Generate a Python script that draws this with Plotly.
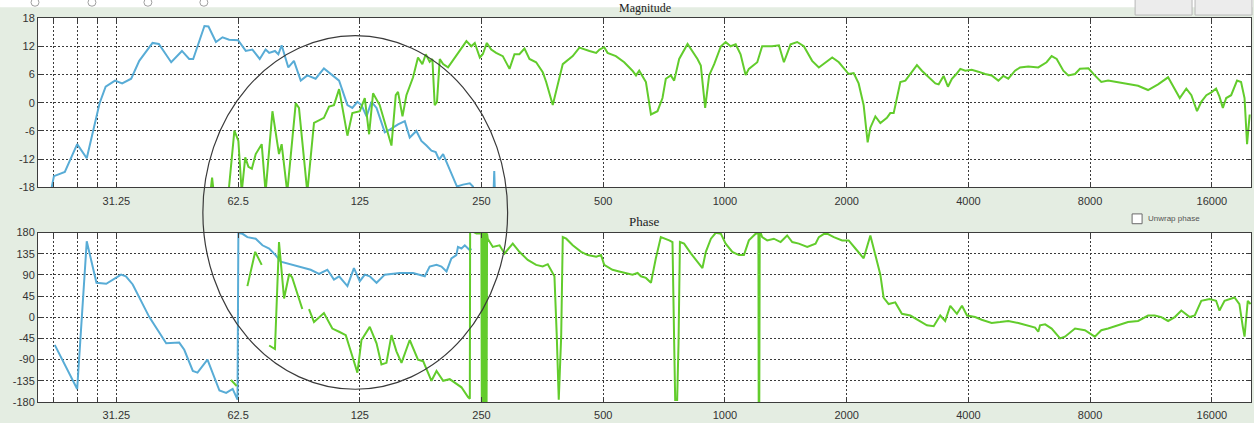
import math
import plotly.graph_objects as go

# ---------------------------------------------------------------------------
# Measured transfer function: two responses (blue / green), magnitude + phase
# ---------------------------------------------------------------------------

# Magnitude, blue response (Hz, dB); None separates disconnected pieces
mag_blue_freq = [21.5, 21.9, 23.3, 25.0, 26.4, 28.4, 29.4, 31.0, 32.3, 34.0,
                 35.6, 38.4, 39.8, 42.7, 45.4, 47.3, 48.4, 51.6, 52.8, 55.1,
                 57.2, 59.4, 62.5, 65.3, 67.8, 70.7, 73.1, 74.6, 77.1, 78.6,
                 80.1, 83.2, 85.9, 89.3, 92.7, 97.2, 101.9, 106.9, 111.1, 116.5,
                 119.8, 123.3, 126.2, 129.9, 133.6, 137.5, 144.1, 148.3, 155.4, 161.5,
                 166.1, 172.5, 177.5, 182.7, 188.0, 192.6, 196.3, 200.9, 204.8, 210.6,
                 217.4, 225.0, 233.9, 238.1, 241.9, None, 267.5, 268.8, 270.0]
mag_blue_db = [-19, -15.6, -14.7, -8.8, -11.8, -0.1, 3.4, 4.7, 4.1, 5.1,
               8.9, 12.7, 12.5, 8.6, 11.0, 9.3, 9.3, 16.3, 16.2, 12.9,
               13.9, 13.4, 13.3, 11.0, 11.3, 9.3, 11.3, 10.6, 11.0, 10.3,
               12.2, 7.5, 8.9, 4.7, 5.8, 5.1, 7.3, 5.8, 4.7, -0.5,
               -1.1, 0.2, -0.5, -2.9, 0.2, -1.1, -6.3, -5.7, -4.6, -3.9,
               -7.4, -6.0, -8.1, -9.1, -10.2, -10.5, -12.1, -10.9, -12.6, -15.4,
               -17.8, -17.4, -17.1, -17.8, -20, None, -20, -14.5, -20]

# Magnitude, green response (Hz, dB)
mag_green_freq = [53.4, 53.9, 54.4, None,
                  59.2, 61.2, 62.6, 63.8, 65.1, 66.3, 67.6, 69.1, 71.5, 73.1,
                  76.0, 77.4, 78.9, 80.1, 82.7, 86.8, 88.4, 92.7, 96.3, 101.9,
                  104.9, 107.9, 111.1, 116.5, 119.8, 125.0, 128.6, 131.8, 134.8, 140.0,
                  149.7, 153.4, 155.4, 159.4, 163.0, 169.3, 174.1, 178.5, 182.0, 186.1,
                  189.0, 191.5, 194.0, 197.1, 200.9, 206.6, 214.6, 220.9, 229.4, 235.9,
                  240.6, 247.6, 251.8, 257.7, 264.2, 271.7, 282.2, 293.2, 301.6, 310.2,
                  319.3, 328.5, 341.2, 354.3, 361.3, 375.1, 385.9, 397.1, 420.3, 436.6,
                  462.3, 480.3, 489.5, 502.8, 512.4, 537.3, 563.4, 590.6, 602.6, 613.7,
                  637.6, 656.2, 681.0, 700.7, 714.1, 734.8, 748.9, 770.5, 808.2, 831.2,
                  855.2, 871.6, 893.4, 913.9, 940.6, 977.3, 1004, 1033, 1063, 1093,
                  1125, 1146, 1202, 1236, 1308, 1360, 1399, 1453, 1509, 1567,
                  1643, 1707, 1774, 1842, 1913, 1989, 2023, 2081, 2141, 2203,
                  2254, 2289, 2355, 2423, 2515, 2564, 2614, 2663, 2715, 2794,
                  2875, 2984, 3069, 3188, 3314, 3377, 3474, 3560, 3642, 3735,
                  3820, 3931, 4076, 4232, 4400, 4567, 4744, 4881, 5021, 5217,
                  5368, 5626, 5956, 6244, 6427, 6614, 6869, 7068, 7342, 7550,
                  7923, 8216, 8527, 8863, 9383, 10022, 10513, 11128, 11783, 12474,
                  12834, 13330, 13835, 14243, 14707, 15070, 15512, 15953, 16393, 16713,
                  17039, 17367, 17862, 18473, 18900, 19276, 19557, 19850]
mag_green_db = [-19, -15.9, -19, None,
                -19, -5.9, -8.1, -19, -11.6, -13.6, -14.0, -10.9, -8.8, -19,
                -1.8, -6.0, -10.9, -8.8, -19, -0.1, -1.1, -19, -4.3, -3.2,
                -0.8, -0.5, 2.9, -7.0, -2.2, -1.8, 1.0, -6.7, 2.0, -0.5,
                -9.1, 1.6, 2.3, -2.9, 1.6, 5.4, 9.6, 8.2, 10.3, 8.7,
                9.3, -0.5, 0.2, 9.3, 8.2, 7.5, 9.6, 11.0, 13.1, 12.0,
                12.7, 9.6, 10.3, 12.7, 11.3, 10.6, 9.9, 7.2, 10.3, 10.3,
                11.5, 9.3, 8.6, 6.5, 4.4, -0.5, 3.7, 8.2, 9.9, 11.7,
                11.0, 10.6, 11.3, 11.8, 10.6, 9.9, 8.6, 6.8, 5.8, 6.8,
                4.4, -2.5, -1.8, 1.0, 5.1, 5.8, 4.7, 9.3, 12.5, 11.0,
                9.3, 7.9, -1.1, 5.8, 8.2, 12.0, 12.9, 12.0, 12.4, 10.3,
                5.9, 7.2, 8.6, 12.0, 12.0, 12.2, 8.6, 12.4, 12.9, 12.0,
                8.9, 7.5, 8.6, 9.6, 8.6, 6.8, 6.1, 6.3, 4.1, -0.5,
                -8.4, -5.3, -2.9, -4.3, -3.2, -2.2, -2.2, 1.0, 4.4, 4.7,
                6.1, 8.0, 6.8, 5.4, 4.1, 3.9, 5.7, 3.4, 5.1, 6.1,
                7.2, 6.8, 7.0, 6.6, 6.1, 5.8, 4.7, 5.7, 5.1, 6.8,
                7.5, 7.7, 7.5, 8.6, 9.9, 9.3, 6.8, 5.8, 6.1, 7.2,
                7.3, 5.8, 4.4, 4.7, 4.3, 3.9, 3.6, 2.7, 3.9, 5.4,
                3.4, 1.0, 3.0, 1.6, -1.8, 0.2, 1.6, 2.2, 3.0, 1.3,
                -1.1, 1.0, 1.6, 4.7, 4.4, 1.0, -8.8, -2.5]

# Phase, blue response (Hz, degrees)
ph_blue_freq = [22.0, 25.0, 26.4, 27.9, 29.5, 32.1, 33.0, 34.3, 37.7, 41.5,
                44.7, 46.0, 48.3, 49.6, 52.5, 54.6, 56.2, 58.4, 60.6, 62.3,
                62.6, 64.1, 65.9, 69.1, 71.8, 74.6, 77.4, 79.7, 85.1, 90.1,
                94.5, 99.1, 103.9, 107.9, 111.1, 116.5, 120.9, 125.0, 128.6, 132.3,
                137.5, 144.1, 156.9, 169.3, 181.0, 186.1, 193.5, 199.0, 204.8, 210.6,
                216.6, 218.6, 223.0, 227.3, 233.9, 235.9]
ph_blue_deg = [-58.7, -152.3, 161.3, 73.2, 71.2, 90.5, 87.0, 69.7, 0.4, -55.2,
               -53.8, -69.1, -114.1, -117.6, -89.9, -128.0, -155.7, -160.7, -152.3, -175,
               179, 177.3, 170.2, 166.9, 152.9, 146.1, 132.1, 118.2, 111.3, 104.5,
               100.9, 92.0, 100.9, 80.1, 87.0, 66.2, 104.5, 76.6, 90.5, 87.0,
               73.2, 90.5, 94.0, 94.0, 87.0, 107.8, 111.3, 107.8, 97.4, 125.2,
               132.1, 149.4, 146.1, 152.9, 142.5, 146.1]

# Phase, green response (Hz, degrees); wraps at +/-180 drawn as jumps
ph_green_freq = [60.0, 61.2, 62.0, None,
                 65.9, 68.9, 71.5, None,
                 74.6, 77.1, 78.9, 81.2, 83.6, 85.0, 90.1, None,
                 93.6, 96.3, 101.9, 106.9, 111.1, 115.4, 119.8, 123.3, 126.2, 132.3,
                 137.5, 141.4, 145.5, 149.7, 154.0, 158.5, 166.1, 174.1, 179.3, 188.0,
                 193.5, 200.9, 208.6, 214.6, 223.0, 231.5, 233.9, 234.3, 242.8, 249.8,
                 250.4, 251.0, 251.7, 252.4, 253.1, 253.8, 254.5, 255.2, 255.9, 256.6,
                 257.3, 258.0, 259.0, 266.6, 277.0, 285.0, 298.7, 310.2, 325.3, 341.2,
                 354.3, 364.6, 371.7, 378.7, 383.8, 388.1, 393.5, 397.1, 405.0, 420.3,
                 440.8, 457.8, 480.3, 493.9, 502.8, 527.0, 547.5, 568.9, 590.6, 608.0,
                 619.7, 637.6, 656.2, 674.7, 694.1, 728.2, 741.7, 748.9, 753.2, 761.7,
                 767.7, 773.8, 792.4, 823.6, 855.1, 879.7, 896.9, 923.2, 949.1, 977.3,
                 1004, 1043, 1083, 1114, 1146, 1191, 1206, 1208, 1210, 1212,
                 1214, 1216, 1219, 1236, 1272, 1321, 1373, 1425, 1467, 1523,
                 1598, 1675, 1707, 1774, 1859, 1949, 2023, 2102, 2203, 2289,
                 2355, 2423, 2468, 2540, 2638, 2739, 2875, 3012, 3159, 3283,
                 3408, 3505, 3608, 3747, 3857, 3969, 4155, 4315, 4567, 4790,
                 5021, 5316, 5572, 5848, 5956, 6016, 6193, 6427, 6742, 6933,
                 7342, 7768, 8216, 8527, 8863, 9383, 9929, 10513, 11128, 11562,
                 12000, 12474, 12960, 13450, 14107, 14520, 15070, 15800, 16393, 16713,
                 17203, 18208, 18723, 19087, 19276, 19634, 19950]
ph_green_deg = [-133, -140, -146, None,
                66.2, 139.0, 111.3, None,
                -60, -67.6, 159.8, 40, 92, 85, 17.5, None,
                17.5, -10.2, 9, -24.0, -30.8, -37.9, -82.8, -117.6, -48.3, -20.4,
                -55.2, -100.3, -96.8, -37.9, -72.4, -96.8, -48.3, -89.9, -93.3, -134.9,
                -114.1, -134.9, -131.5, -138.4, -148.8, -169.6, -173.1, 185, 178, 178,
                -185, 185, -185, 185, -185, 185, -185, 185, -185, 185,
                -185, 178, 166.9, 149.4, 152.9, 135.6, 156.5, 139.0, 121.7, 111.3,
                107.8, 112.7, 100.9, 87.0, -41.2, -175, -41.2, 170.2, 166.9, 152.9,
                139.0, 132.1, 128.6, 132.1, 111.3, 100.9, 97.4, 94.0, 90.5, 94.0,
                87.0, 83.6, 73.2, 125.2, 170.2, 163.3, 159.8, -55.2, -176, -176,
                -55.2, 159.8, 156.5, 135.6, 118.2, 104.5, 139.0, 166.9, 179.4, 177.3,
                156.5, 139.0, 132.1, 132.1, 163.3, 177.3, 178, -185, 185, -185,
                185, -185, 185, 170.2, 163.3, 166.9, 159.8, 173.8, 159.8, 156.5,
                149.4, 156.5, 170.2, 179.4, 170.2, 163.3, 163.3, 146.1, 125.2, 173.8,
                132.1, 90.5, 42.0, 28.1, 31.6, 7.3, 3.7, -6.6, -17.1, -19.1,
                3.7, -7.9, 24.4, 7.3, 24.4, 3.7, 0.4, -5.2, -12.1, -10.2,
                -7.9, -12.1, -17.1, -21.8, -30.8, -17.1, -15.0, -24.0, -44.8, -41.2,
                -24.0, -27.5, -41.2, -27.5, -24.0, -17.1, -10.2, -7.9, 3.7, 3.7,
                0.4, -7.9, 0.4, 14.2, 0.4, 3.7, 35.0, 38.5, 35.0, 14.2,
                35.0, 42.0, 28.1, -20.4, -41.2, 35, 28]

for fx_, fy_ in [(mag_blue_freq, mag_blue_db), (mag_green_freq, mag_green_db),
                 (ph_blue_freq, ph_blue_deg), (ph_green_freq, ph_green_deg)]:
    assert len(fx_) == len(fy_), (len(fx_), len(fy_))

# Axis ticks
freq_ticks = [21.875, 25, 28.125, 31.25, 62.5, 125, 250, 500, 1000, 2000, 4000, 8000, 16000]
freq_labels = ["", "", "", "31.25", "62.5", "125", "250", "500", "1000", "2000", "4000", "8000", "16000"]
mag_ticks = [-18, -12, -6, 0, 6, 12, 18]
mag_labels = ["-18", "-12", "-6", "0", "6", "12", "18"]
phase_ticks = [-180, -135, -90, -45, 0, 45, 90, 135, 180]
phase_labels = ["-180", "-135", "-90", "-45", "0", "45", "90", "135", "180"]

BLUE = "#58acd6"
GREEN = "#62cc2c"
BG = "#e4ede2"

W, H = 1254, 423
ML, MR, MT, MB = 38, 2, 18, 13
PW, PH = W - ML - MR, H - MT - MB


def fx(x):
    """Pixel column -> paper x."""
    return (x - ML) / PW


def fy(y):
    """Pixel row -> paper y."""
    return 1 - (y - MT) / PH


fig = go.Figure()
fig.add_trace(go.Scatter(x=mag_blue_freq, y=mag_blue_db, mode="lines",
                         line=dict(color=BLUE, width=2), xaxis="x", yaxis="y"))
fig.add_trace(go.Scatter(x=mag_green_freq, y=mag_green_db, mode="lines",
                         line=dict(color=GREEN, width=2), xaxis="x", yaxis="y"))
fig.add_trace(go.Scatter(x=ph_blue_freq, y=ph_blue_deg, mode="lines",
                         line=dict(color=BLUE, width=2), xaxis="x2", yaxis="y2"))
fig.add_trace(go.Scatter(x=ph_green_freq, y=ph_green_deg, mode="lines",
                         line=dict(color=GREEN, width=2), xaxis="x2", yaxis="y2"))

tick_font = dict(family="Liberation Sans, Arial, sans-serif", size=11, color="#333333")
common = dict(showgrid=True, gridcolor="#3a3a3a", gridwidth=1, griddash="2px,2px",
              showline=True, linecolor="#3c3c3c", linewidth=1, mirror="allticks",
              ticks="inside", ticklen=5, tickcolor="#3c3c3c", tickfont=tick_font,
              zeroline=False)
xr = [math.log10(20), math.log10(20000)]

fig.update_layout(
    width=W, height=H,
    margin=dict(l=ML, r=MR, t=MT, b=MB),
    paper_bgcolor=BG, plot_bgcolor="white",
    showlegend=False,
    xaxis=dict(type="log", range=xr, tickvals=freq_ticks, ticktext=freq_labels,
               anchor="y", ticklabelstandoff=3, **common),
    yaxis=dict(range=[-18, 18], tickvals=mag_ticks, ticktext=mag_labels,
               domain=[fy(191), 1], anchor="x", **common),
    xaxis2=dict(type="log", range=xr, tickvals=freq_ticks, ticktext=freq_labels,
                anchor="y2", ticklabelstandoff=3, **common),
    yaxis2=dict(range=[-180, 180], tickvals=phase_ticks, ticktext=phase_labels,
                domain=[0, fy(237)], anchor="x2", **common),
)

shapes = [
    # white strip along the top edge of the window
    dict(type="rect", xref="paper", yref="paper", x0=fx(0), x1=fx(W), y0=fy(7), y1=fy(-2),
         fillcolor="white", line=dict(width=0), layer="below"),
    # push buttons at the top right
    dict(type="rect", xref="paper", yref="paper", x0=fx(1136), x1=fx(1193), y0=fy(15), y1=fy(-3),
         fillcolor="#ececec", line=dict(color="#b8b8b8", width=1)),
    dict(type="rect", xref="paper", yref="paper", x0=fx(1196), x1=fx(1253), y0=fy(15), y1=fy(-3),
         fillcolor="#ececec", line=dict(color="#b8b8b8", width=1)),
    # "Unwrap phase" check box
    dict(type="rect", xref="paper", yref="paper", x0=fx(1133), x1=fx(1143), y0=fy(228), y1=fy(218),
         fillcolor="white", line=dict(color="#6a6a6a", width=1)),
    # hand-drawn highlight ellipse around the low-frequency region
    dict(type="circle", xref="paper", yref="paper", x0=fx(203), x1=fx(508), y0=fy(397), y1=fy(36),
         line=dict(color="#3a3a3a", width=1.2), layer="above"),
]
# radio buttons of the legend panel, mostly off the top edge
for cx in [35, 92, 148, 204]:
    shapes.append(dict(type="circle", xref="paper", yref="paper",
                       x0=fx(cx - 4), x1=fx(cx + 4), y0=fy(6), y1=fy(-2),
                       line=dict(color="#a0a0a0", width=1)))
fig.update_layout(shapes=shapes)

fig.update_layout(annotations=[
    dict(text="Magnitude", xref="paper", yref="paper", x=fx(645), y=fy(8),
         xanchor="center", yanchor="middle", showarrow=False,
         font=dict(family="Liberation Serif, Times New Roman, serif", size=12, color="#222222")),
    dict(text="Phase", xref="paper", yref="paper", x=fx(645), y=fy(226),
         xanchor="center", yanchor="middle", showarrow=False,
         font=dict(family="Liberation Serif, Times New Roman, serif", size=13, color="#222222")),
    dict(text="Unwrap phase", xref="paper", yref="paper", x=fx(1147), y=fy(223),
         xanchor="left", yanchor="middle", showarrow=False,
         font=dict(family="Liberation Sans, Arial, sans-serif", size=8, color="#555555")),
])

fig.write_html("out.html")
